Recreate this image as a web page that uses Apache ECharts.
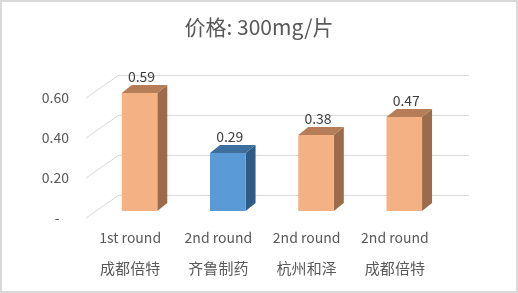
<!DOCTYPE html>
<html>
<head>
<meta charset="utf-8">
<script src="https://cdn.jsdelivr.net/npm/echarts@6/dist/echarts.min.js"></script>
<style>html,body{margin:0;padding:0;background:#fff}#c{width:518px;height:293px}</style>
</head>
<body>
<div id="c"></div>
<script>
const rounds = ['1st round', '2nd round', '2nd round', '2nd round'];
const companies = ['成都倍特', '齐鲁制药', '杭州和泽', '成都倍特'];
const values = [0.59, 0.29, 0.38, 0.47];
const yTicks = [0, 0.2, 0.4, 0.6];
const titleText = '价格: 300mg/片';

const FONT = '"Noto Sans CJK SC", "Noto Sans", sans-serif';
const highlightIndex = 1;
const orange = { front: '#F4B183', top: '#B57E58', side: '#9C6B4B' };
const blue = { front: '#5B9BD5', top: '#3D6F9E', side: '#2E5C86' };
const gridColor = '#D9D9D9';

const chart = echarts.init(document.getElementById('c'), null, { renderer: 'canvas' });
const cats = rounds.map((r, i) => r + '\n' + companies[i]);

chart.setOption({
  backgroundColor: '#fff',
  animation: false,
  title: {
    text: titleText, left: 'center', top: 12,
    textStyle: { fontFamily: FONT, fontSize: 21, fontWeight: 'normal', color: '#595959' }
  },
  graphic: [{
    type: 'rect', shape: { x: 1, y: 1, width: 516, height: 291 },
    style: { fill: 'none', stroke: '#D9D9D9', lineWidth: 2 }, silent: true, z: 100
  }],
  grid: [
    { left: 118, width: 351, top: 75.7, height: 120 },   // back wall
    { left: 86, width: 353, top: 98, height: 120 },      // front (labels)
    { left: 95.4, width: 353, top: 91, height: 120 }     // bars
  ],
  xAxis: [
    { gridIndex: 0, type: 'value', show: false },
    { gridIndex: 1, type: 'category', data: cats,
      axisLine: { show: false }, axisTick: { show: false },
      axisLabel: { interval: 0, margin: 4,
        formatter: v => { const p = v.split('\n'); return '{a|' + p[0] + '}\n{b|' + p[1] + '}'; },
        rich: {
          a: { fontFamily: FONT, fontSize: 14, color: '#595959', lineHeight: 31 },
          b: { fontFamily: FONT, fontSize: 15, color: '#595959', lineHeight: 31 }
        } } },
    { gridIndex: 2, type: 'category', data: cats, show: false }
  ],
  yAxis: [
    { gridIndex: 0, type: 'value', min: 0, max: 0.6, interval: 0.2,
      axisLabel: { show: false }, axisLine: { show: false }, axisTick: { show: false },
      splitLine: { show: true, lineStyle: { color: gridColor, width: 1 } } },
    { gridIndex: 1, type: 'value', min: 0, max: 0.6, interval: 0.2,
      axisLine: { show: false }, axisTick: { show: false }, splitLine: { show: false },
      axisLabel: { fontFamily: FONT, fontSize: 14, color: '#595959', margin: 17,
        formatter: v => v === 0 ? '-   ' : v.toFixed(2) } },
    { gridIndex: 2, type: 'value', min: 0, max: 0.6, show: false, splitLine: { show: false } }
  ],
  series: [
    {
      type: 'custom', xAxisIndex: 1, yAxisIndex: 1, silent: true,
      data: yTicks.map(v => [0, v]),
      renderItem: (params, api) => {
        const y = api.coord([0, api.value(1)])[1];
        const x = params.coordSys.x;
        return { type: 'line', shape: { x1: x, y1: y, x2: x + 32, y2: y - 22.3 },
          style: { stroke: gridColor, lineWidth: 1 } };
      }
    },
    {
      type: 'custom', xAxisIndex: 2, yAxisIndex: 2, silent: true,
      data: values.map((v, i) => [i, v]),
      renderItem: (params, api) => {
        const i = api.value(0), v = api.value(1);
        const top = api.coord([i, v]);
        const base = api.coord([i, 0]);
        const bw = api.size([1, 0])[0] * 0.403;
        const x0 = top[0] - bw / 2, x1 = top[0] + bw / 2;
        const dx = 10, dy = -8;
        const c = i === highlightIndex ? blue : orange;
        return {
          type: 'group',
          children: [
            { type: 'polygon', shape: { points: [[x1, top[1]], [x1 + dx, top[1] + dy], [x1 + dx, base[1] + dy], [x1, base[1]]] },
              style: { fill: c.side } },
            { type: 'polygon', shape: { points: [[x0, top[1]], [x1, top[1]], [x1 + dx, top[1] + dy], [x0 + dx, top[1] + dy]] },
              style: { fill: c.top } },
            { type: 'rect', shape: { x: x0, y: top[1], width: bw, height: base[1] - top[1] },
              style: { fill: c.front } },
            { type: 'text', x: top[0] + 2, y: top[1] - 16,
              style: { text: v.toFixed(2), fontFamily: FONT, fontSize: 14, fill: '#404040',
                align: 'center', verticalAlign: 'middle' } }
          ]
        };
      }
    }
  ]
});
</script>
</body>
</html>
